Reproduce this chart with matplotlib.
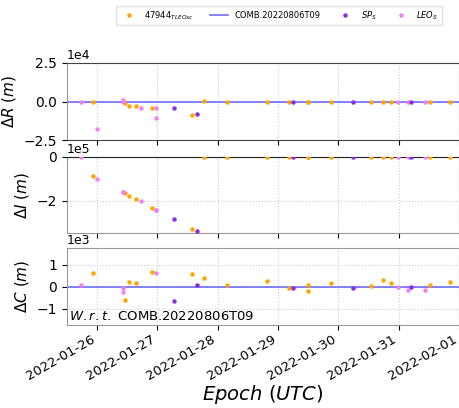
import numpy as np
import pandas as pd
import matplotlib
matplotlib.use('Agg')
import matplotlib.pyplot as plt
import matplotlib.dates as mdates

# Residuals w.r.t. the combined orbit, in days after 2022-01-26 00:00 UTC
t0 = pd.Timestamp('2022-01-26')

# 47944 TLE (osculating)
tle_days = [-0.07, 0.47, 0.52, 0.65, 0.91, 1.58, 1.77, 2.16, 2.82, 3.18, 3.49, 3.50,
            3.88, 4.54, 4.74, 4.87, 5.52, 5.85]
tle_dR = [-500, -1000, -2600, -3200, -3900, -8600, 300, -500, 0, 0, -300, -300,
          0, -300, 0, 0, -300, 0]
tle_dI = [-89000, -166000, -177000, -194000, -232000, -329000, 0, 0, 0, 0, 0, 0,
          0, 0, 0, 0, 0, 0]
tle_dC = [600, -600, 200, 180, 680, 550, 370, 60, 230, -80, 80, -200,
          170, 30, 290, 180, 60, 220]

# SP ephemerides
sp_days = [1.27, 1.66, 3.25, 4.25, 5.21]
sp_dR = [-3900, -7900, 0, 0, 0]
sp_dI = [-283000, -337000, 0, 0, 0]
sp_dC = [-650, 90, -50, -80, -30]

# LEO ephemerides
leo_days = [-0.26, -0.01, 0.43, 0.43, 0.73, 0.98, 0.98, 4.99, 5.16, 5.44]
leo_dR = [0, -17800, 1000, 0, -4300, -4100, -10700, 0, 0, 0]
leo_dI = [0, -100000, -162000, -162000, -202000, -243000, -243000, 0, 0, 0]
leo_dC = [80, np.nan, -80, -260, np.nan, 620, np.nan, 0, -140, -140]

# reference orbit span
comb_days = [-0.5, 6.0]
comb_zero = [0, 0]

ref_name = 'COMB.20220806T09'


def to_dates(days):
    return [t0 + pd.Timedelta(days=d) for d in days]


fig = plt.figure(figsize=(4.59, 4.08), dpi=100)
left, width = 67 / 459, 392 / 459
ax1 = fig.add_axes([left, 1 - 140 / 408, width, 77 / 408])
ax2 = fig.add_axes([left, 1 - 233 / 408, width, 76 / 408], sharex=ax1)
ax3 = fig.add_axes([left, 1 - 325 / 408, width, 77 / 408], sharex=ax1)

c_tle = 'orange'
c_sp = '#8a2be2'
c_leo = 'violet'
c_comb = '#5555ff'

panels = [
    (ax1, tle_dR, sp_dR, leo_dR, r'$\Delta R\ (m)$'),
    (ax2, tle_dI, sp_dI, leo_dI, r'$\Delta I\ (m)$'),
    (ax3, tle_dC, sp_dC, leo_dC, r'$\Delta C\ (m)$'),
]

for ax, d_tle, d_sp, d_leo, lab in panels:
    ax.plot(to_dates(tle_days), d_tle, 'o', ms=2.2, color=c_tle,
            label=r'47944$_{TLEOsc}$', zorder=3)
    ax.plot(to_dates(comb_days), comb_zero, '-', lw=1.2, color=c_comb,
            alpha=0.85, label=ref_name, zorder=2)
    ax.plot(to_dates(sp_days), d_sp, 'o', ms=2.2, color=c_sp,
            label=r'$SP_S$', zorder=4)
    ax.plot(to_dates(leo_days), d_leo, 'o', ms=2.2, color=c_leo,
            label=r'$LEO_S$', zorder=3)
    ax.set_ylabel(lab, fontsize=11)
    ax.grid(True, ls=':', color='#cccccc', lw=0.8)
    ax.ticklabel_format(axis='y', style='sci', scilimits=(0, 0))
    ax.tick_params(axis='y', labelsize=10)
    ax.yaxis.get_offset_text().set_fontsize(9)
    for s in ax.spines.values():
        s.set_color('#999999')

ax1.set_ylim(-2.5e4, 2.5e4)
ax1.set_yticks([-2.5e4, 0, 2.5e4])
ax1.spines['top'].set_color('#444444')
ax1.spines['bottom'].set_color('#444444')
ax2.set_ylim(-3.48e5, 0)
ax2.set_yticks([-2e5, 0])
ax2.spines['top'].set_color('#222222')
ax3.set_ylim(-1.75e3, 1.75e3)
ax3.set_yticks([-1e3, 0, 1e3])

ax1.set_xlim(t0 - pd.Timedelta(hours=12), t0 + pd.Timedelta(days=6))
ax3.xaxis.set_major_locator(mdates.DayLocator())
ax3.xaxis.set_major_formatter(mdates.DateFormatter('%Y-%m-%d'))
for ax in (ax1, ax2):
    ax.tick_params(axis='x', labelbottom=False)
ax3.tick_params(axis='x', pad=2)
plt.setp(ax3.get_xticklabels(), rotation=30, ha='right', fontsize=9.5)
ax3.set_xlabel(r'$Epoch\ (UTC)$', fontsize=14, labelpad=0)

ax3.text(0.004, 0.02, r'$W.r.t.$ ' + ref_name, transform=ax3.transAxes,
         fontsize=9.5, ha='left', va='bottom')

handles, labels = ax1.get_legend_handles_labels()
fig.legend(handles, labels, loc='center', ncol=4, fontsize=6,
           bbox_to_anchor=(279 / 459, 1 - 15.5 / 408), markerscale=1.0,
           frameon=True, edgecolor='#dddddd', fancybox=False,
           columnspacing=1.8, handlelength=2.2)

fig.savefig('out.png', dpi=100)
